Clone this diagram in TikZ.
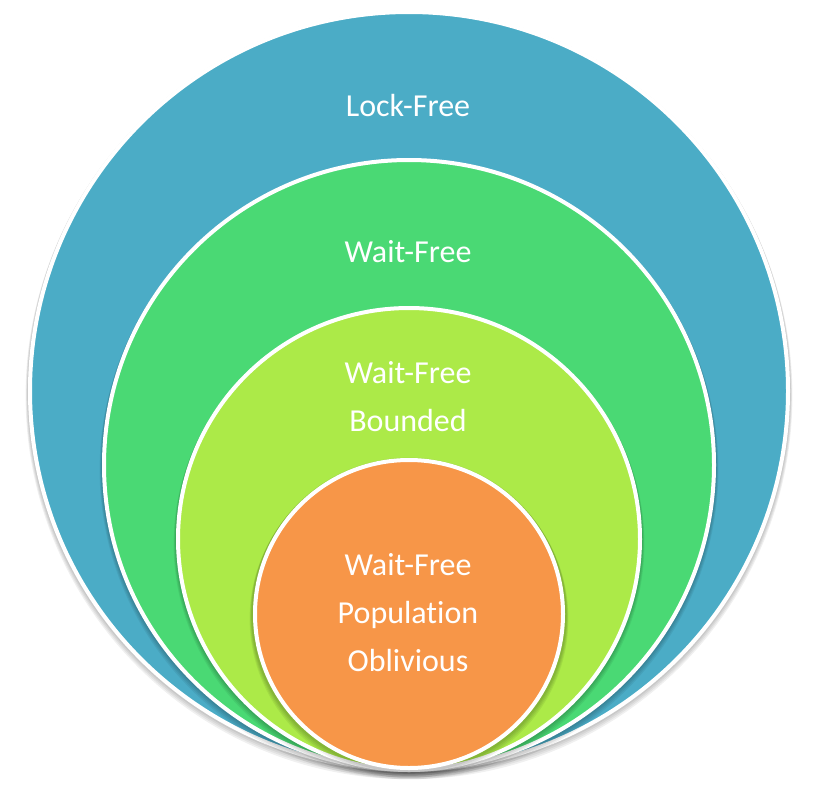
\documentclass[tikz,border=0pt]{standalone}
\usepackage{fontspec}
\setmainfont[Ligatures=NoCommon]{Carlito}
\definecolor{cblue}{RGB}{75,172,198}
\definecolor{cgreen}{RGB}{74,217,116}
\definecolor{clime}{RGB}{172,234,72}
\definecolor{corange}{RGB}{247,150,72}
\tikzset{
  ring/.style={circle, draw=white, line width=4pt, inner sep=0pt, minimum size=#1},
  lbl/.style={text=white, font=\fontsize{32}{48}\selectfont, align=center, inner sep=0pt},
  shade1/.style={fill=black, opacity=0.06},
}
\begin{document}
\begin{tikzpicture}[x=1pt,y=1pt]
\useasboundingbox (0,0) rectangle (816,-787);
% outer
\foreach \d in {1,2,3,4}{\fill[shade1] (409,-391-1.2*\d) circle (381+0.6*\d);}
\node[ring=758pt, fill=cblue] (lock) at (409,-391) {};
\foreach \d in {1,2,3,4}{\fill[shade1] (409,-465-1.2*\d) circle (307+0.6*\d);}
\node[ring=610pt, fill=cgreen] (wait) at (409,-465) {};
\foreach \d in {1,2,3,4}{\fill[shade1] (409,-539-1.2*\d) circle (233+0.6*\d);}
\node[ring=462pt, fill=clime] (bounded) at (409,-539) {};
\foreach \d in {1,2,3,4}{\fill[shade1] (409,-614-1.2*\d) circle (157+0.6*\d);}
\node[ring=308pt, fill=corange] (oblivious) at (409,-614) {};
% labels
\node[lbl] (tlock) at (408,-105) {Lock-Free};
\node[lbl] (twait) at (408,-252) {Wait-Free};
\node[lbl] (tbounded) at (408,-397) {Wait-Free\\Bounded};
\node[lbl] (toblivious) at (408,-613) {Wait-Free\\Population\\Oblivious};
\end{tikzpicture}
\end{document}
